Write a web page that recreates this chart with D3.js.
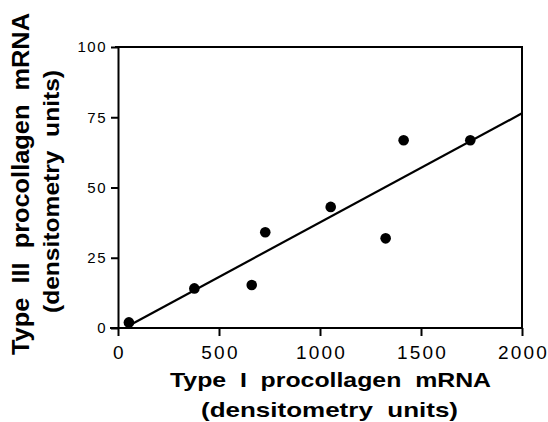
<!DOCTYPE html>
<html>
<head>
<meta charset="utf-8">
<script src="https://cdn.jsdelivr.net/npm/d3@7/dist/d3.min.js"></script>
<style>
  html, body { margin: 0; padding: 0; background: #fff; }
  svg { display: block; }
  text { font-family: "Liberation Sans", Arial, Helvetica, sans-serif; fill: #000; }
</style>
</head>
<body>
<svg id="chart" width="548" height="422"></svg>
<script>
// Data
const type1 = [54, 378, 662, 729, 1053, 1325, 1414, 1744];
const type3 = [2.0, 14.1, 15.3, 34.1, 43.1, 31.9, 66.8, 66.8];
// Regression line end points
const fitX = [60, 2000];
const fitY = [1.1, 76.4];
const xTicks = [0, 500, 1000, 1500, 2000];
const yTicks = [0, 25, 50, 75, 100];
const xTitle = ["Type  I  procollagen  mRNA", "(densitometry  units)"];
const yTitle = ["Type  III  procollagen  mRNA", "(densitometry  units)"];

const svg = d3.select("#chart");
const mLeft = 118, mRight = 522, mTop = 47, mBottom = 328;
const x = d3.scaleLinear().domain([0, 2000]).range([mLeft, mRight]);
const y = d3.scaleLinear().domain([0, 100]).range([mBottom, mTop]);

// Frame (top and right sides)
svg.append("path")
  .attr("d", `M${mLeft - 3},${mTop} H${mRight} V${mBottom}`)
  .attr("fill", "none").attr("stroke", "#000").attr("stroke-width", 2);

// X axis
const gx = svg.append("g").attr("transform", `translate(0,${mBottom})`)
  .call(d3.axisBottom(x).tickValues(xTicks).tickFormat(d3.format("d"))
    .tickSize(8).tickSizeOuter(0).tickPadding(10));
gx.select(".domain").attr("d", `M${mLeft - 8},0 H${mRight}`).attr("stroke-width", 2);
gx.selectAll(".tick line").attr("stroke-width", 2);
gx.selectAll(".tick text").attr("font-size", 19).attr("letter-spacing", 2.2)
  .attr("dy", "0.71em").attr("dx", 1);

// Y axis
const gy = svg.append("g").attr("transform", `translate(${mLeft},0)`)
  .call(d3.axisLeft(y).tickValues(yTicks).tickFormat(d3.format("d"))
    .tickSize(7).tickSizeOuter(0).tickPadding(4));
gy.select(".domain").attr("stroke-width", 2);
gy.selectAll(".tick line").attr("stroke-width", 2);
gy.selectAll(".tick text").attr("font-size", 15).attr("letter-spacing", 1.5);

// Regression line
svg.append("path")
  .datum(fitX.map((v, i) => [v, fitY[i]]))
  .attr("d", d3.line().x(d => x(d[0])).y(d => y(d[1])))
  .attr("fill", "none").attr("stroke", "#000").attr("stroke-width", 2.2);

// Points
svg.append("g").selectAll("circle")
  .data(type1.map((v, i) => [v, type3[i]]))
  .join("circle")
  .attr("cx", d => x(d[0])).attr("cy", d => y(d[1])).attr("r", 5.3)
  .attr("fill", "#000");

// X title
const xt = svg.append("text").attr("text-anchor", "middle")
  .attr("font-weight", "bold").attr("font-size", 21).style("white-space", "pre");
xt.append("tspan").attr("x", 330.5).attr("y", 387).text(xTitle[0])
  .attr("textLength", 321).attr("lengthAdjust", "spacingAndGlyphs");
xt.append("tspan").attr("x", 329.5).attr("y", 417).text(xTitle[1])
  .attr("textLength", 257).attr("lengthAdjust", "spacingAndGlyphs");

// Y title
svg.append("text").attr("text-anchor", "middle")
  .attr("font-weight", "bold").attr("font-size", 23).style("white-space", "pre")
  .attr("transform", "translate(29,184) rotate(-90)")
  .attr("textLength", 342).attr("lengthAdjust", "spacingAndGlyphs")
  .text(yTitle[0]);
svg.append("text").attr("text-anchor", "middle")
  .attr("font-weight", "bold").attr("font-size", 22).style("white-space", "pre")
  .attr("transform", "translate(59,191.5) rotate(-90)")
  .attr("textLength", 243).attr("lengthAdjust", "spacingAndGlyphs")
  .text(yTitle[1]);
</script>
</body>
</html>
